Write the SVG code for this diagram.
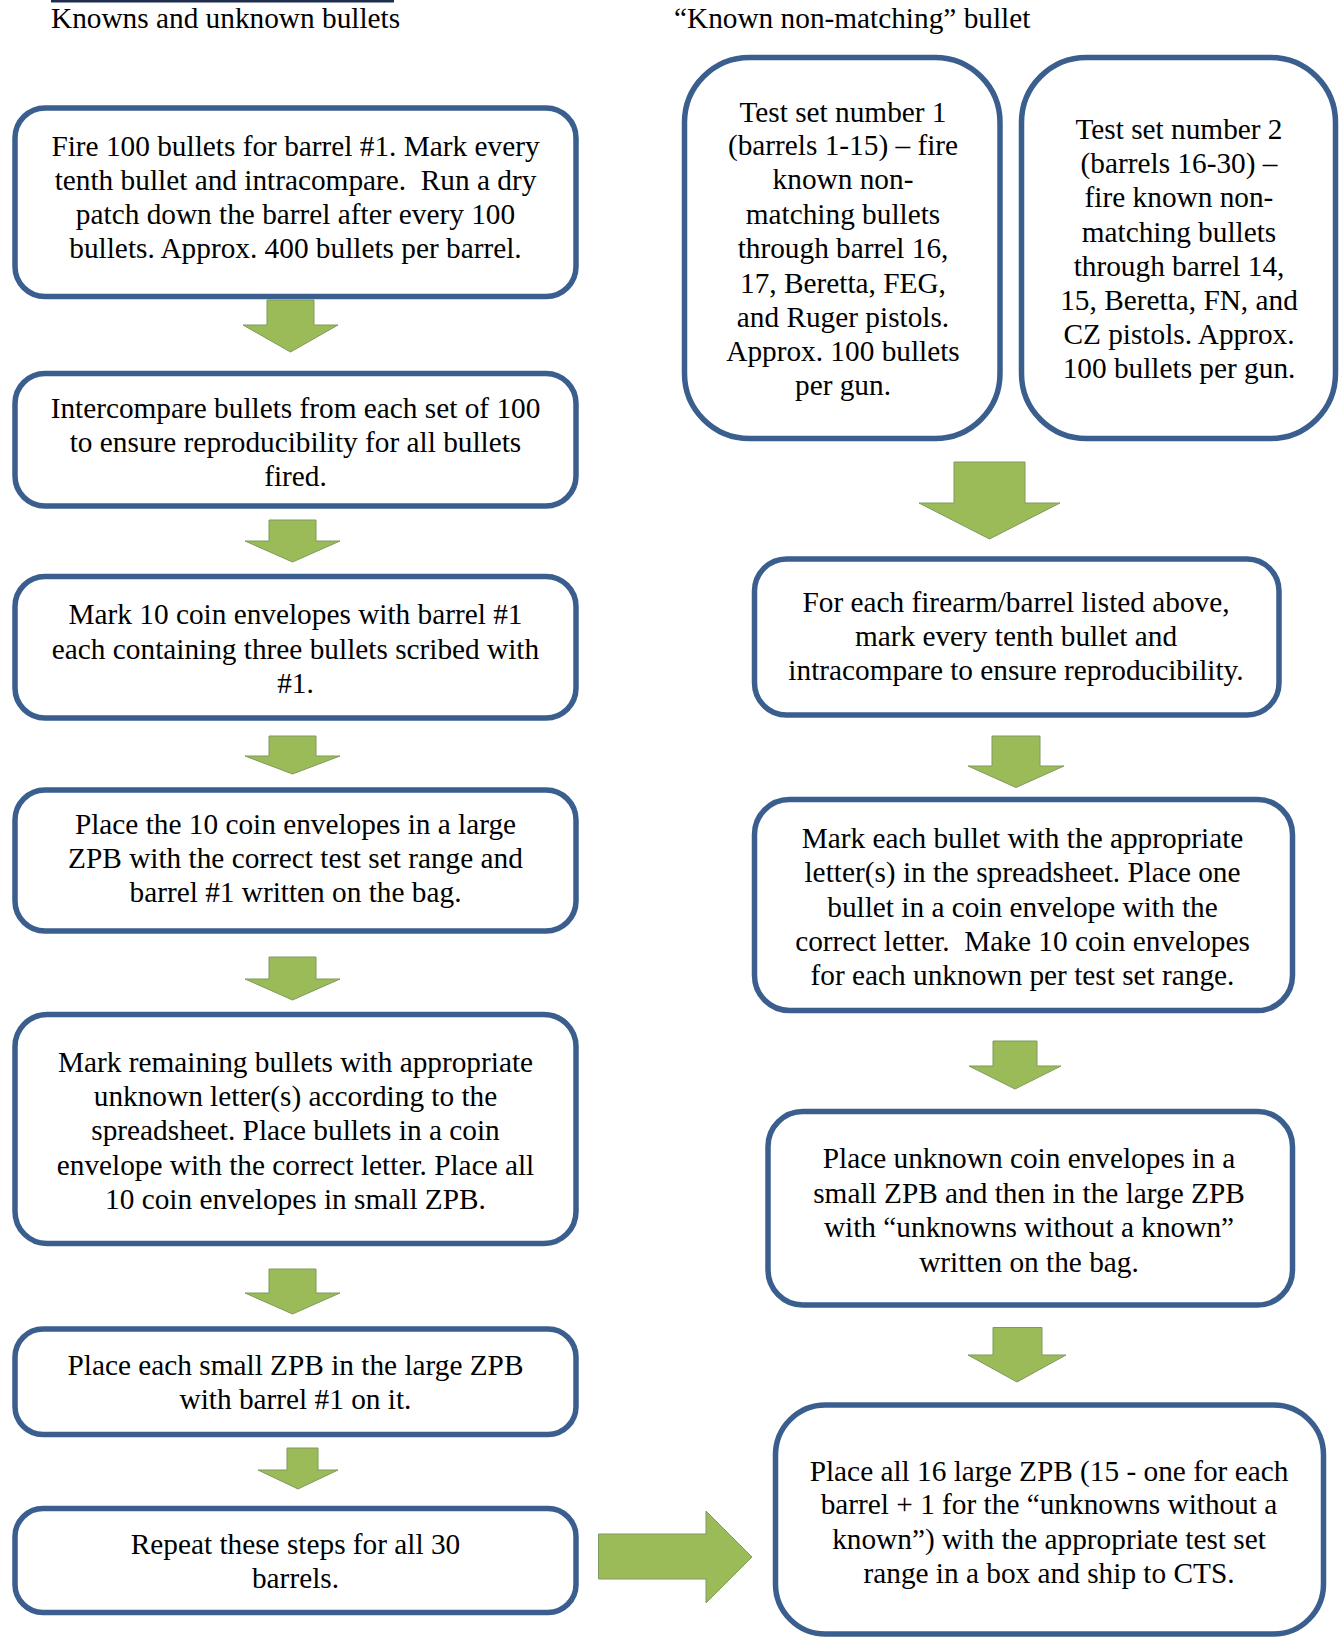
<svg xmlns="http://www.w3.org/2000/svg" width="1341" height="1637" viewBox="0 0 1341 1637">
<style>
.box{fill:#fff;stroke:#3A5F8E;stroke-width:5.5}
.arr{fill:#9BBB59;stroke:#7E9A5E;stroke-width:1}
text{font-family:"Liberation Serif","Times New Roman",serif;font-size:29.3px;fill:#000;white-space:pre}
.c{text-anchor:middle}
</style>
<rect width="1341" height="1637" fill="#fff"/>
<rect x="51" y="0" width="343" height="2.5" fill="#1F2D4F"/>
<text x="51" y="28">Knowns and unknown bullets</text>
<text x="674" y="28">“Known non-matching” bullet</text>

<g id="connectors">
<polygon class="arr" points="267,300 314,300 314,325 338,325 290.5,352 243,325 267,325"/>
<polygon class="arr" points="269,520 316,520 316,541 340,541 292.5,562 245,541 269,541"/>
<polygon class="arr" points="269,736 316,736 316,756 340,756 292.5,774 245,756 269,756"/>
<polygon class="arr" points="269,957 316,957 316,979 340,979 292.5,1000 245,979 269,979"/>
<polygon class="arr" points="269,1269 316,1269 316,1293 340,1293 292.5,1314 245,1293 269,1293"/>
<polygon class="arr" points="287,1448 318,1448 318,1470 338,1470 298,1489 258,1470 287,1470"/>
<polygon class="arr" points="954,462 1025,462 1025,503 1060,503 989.5,539 919,503 954,503"/>
<polygon class="arr" points="992,736 1040,736 1040,766 1064,766 1016,787.5 968,766 992,766"/>
<polygon class="arr" points="993,1041 1037,1041 1037,1066 1061,1066 1015,1089 969,1066 993,1066"/>
<polygon class="arr" points="993,1327.5 1042,1327.5 1042,1355 1066,1355 1017,1382 968,1355 993,1355"/>
<polygon class="arr" points="598.5,1534 706,1534 706,1511 752,1557 706,1603 706,1579 598.5,1579"/>
</g>

<g id="b1">
<rect class="box" x="15" y="108" width="561" height="188.5" rx="30"/>
<text class="c" x="295.5" y="156">Fire 100 bullets for barrel #1. Mark every</text>
<text class="c" x="295.5" y="190">tenth bullet and intracompare.  Run a dry</text>
<text class="c" x="295.5" y="224">patch down the barrel after every 100</text>
<text class="c" x="295.5" y="258">bullets. Approx. 400 bullets per barrel.</text>
</g>
<g id="b2">
<rect class="box" x="15" y="373.5" width="561" height="132.5" rx="30"/>
<text class="c" x="295.5" y="418">Intercompare bullets from each set of 100</text>
<text class="c" x="295.5" y="452">to ensure reproducibility for all bullets</text>
<text class="c" x="295.5" y="486">fired.</text>
</g>
<g id="b3">
<rect class="box" x="15" y="576.5" width="561" height="141.5" rx="30"/>
<text class="c" x="295.5" y="624">Mark 10 coin envelopes with barrel #1</text>
<text class="c" x="295.5" y="659">each containing three bullets scribed with</text>
<text class="c" x="295.5" y="693">#1.</text>
</g>
<g id="b4">
<rect class="box" x="15" y="790" width="561" height="141" rx="30"/>
<text class="c" x="295.5" y="834">Place the 10 coin envelopes in a large</text>
<text class="c" x="295.5" y="868">ZPB with the correct test set range and</text>
<text class="c" x="295.5" y="902">barrel #1 written on the bag.</text>
</g>
<g id="b5">
<rect class="box" x="15" y="1014.5" width="561" height="229" rx="32"/>
<text class="c" x="295.5" y="1072">Mark remaining bullets with appropriate</text>
<text class="c" x="295.5" y="1106">unknown letter(s) according to the</text>
<text class="c" x="295.5" y="1140">spreadsheet. Place bullets in a coin</text>
<text class="c" x="295.5" y="1175">envelope with the correct letter. Place all</text>
<text class="c" x="295.5" y="1209">10 coin envelopes in small ZPB.</text>
</g>
<g id="b6">
<rect class="box" x="15" y="1329" width="561" height="105.5" rx="28"/>
<text class="c" x="295.5" y="1375">Place each small ZPB in the large ZPB</text>
<text class="c" x="295.5" y="1409">with barrel #1 on it.</text>
</g>
<g id="b7">
<rect class="box" x="15" y="1508.5" width="561" height="104" rx="28"/>
<text class="c" x="295.5" y="1554">Repeat these steps for all 30</text>
<text class="c" x="295.5" y="1588">barrels.</text>
</g>

<g id="t1">
<rect class="box" x="684.5" y="57.5" width="315.5" height="381" rx="65"/>
<text class="c" x="843" y="122">Test set number 1</text>
<text class="c" x="843" y="155">(barrels 1-15) – fire</text>
<text class="c" x="843" y="189">known non-</text>
<text class="c" x="843" y="224">matching bullets</text>
<text class="c" x="843" y="258">through barrel 16,</text>
<text class="c" x="843" y="293">17, Beretta, FEG,</text>
<text class="c" x="843" y="327">and Ruger pistols.</text>
<text class="c" x="843" y="361">Approx. 100 bullets</text>
<text class="c" x="843" y="395">per gun.</text>
</g>
<g id="t2">
<rect class="box" x="1021.5" y="57.5" width="314" height="381" rx="65"/>
<text class="c" x="1179" y="139">Test set number 2</text>
<text class="c" x="1179" y="173">(barrels 16-30) –</text>
<text class="c" x="1179" y="207">fire known non-</text>
<text class="c" x="1179" y="242">matching bullets</text>
<text class="c" x="1179" y="276">through barrel 14,</text>
<text class="c" x="1179" y="310">15, Beretta, FN, and</text>
<text class="c" x="1179" y="344">CZ pistols. Approx.</text>
<text class="c" x="1179" y="378">100 bullets per gun.</text>
</g>
<g id="r1">
<rect class="box" x="754.5" y="559" width="524.5" height="156" rx="32"/>
<text class="c" x="1016" y="612">For each firearm/barrel listed above,</text>
<text class="c" x="1016" y="646">mark every tenth bullet and</text>
<text class="c" x="1016" y="680">intracompare to ensure reproducibility.</text>
</g>
<g id="r2">
<rect class="box" x="754.5" y="799.5" width="538" height="211" rx="35"/>
<text class="c" x="1022.5" y="848">Mark each bullet with the appropriate</text>
<text class="c" x="1022.5" y="882">letter(s) in the spreadsheet. Place one</text>
<text class="c" x="1022.5" y="917">bullet in a coin envelope with the</text>
<text class="c" x="1022.5" y="951">correct letter.  Make 10 coin envelopes</text>
<text class="c" x="1022.5" y="985">for each unknown per test set range.</text>
</g>
<g id="r3">
<rect class="box" x="768" y="1111.5" width="524.5" height="193.5" rx="35"/>
<text class="c" x="1029" y="1168">Place unknown coin envelopes in a</text>
<text class="c" x="1029" y="1203">small ZPB and then in the large ZPB</text>
<text class="c" x="1029" y="1237">with “unknowns without a known”</text>
<text class="c" x="1029" y="1272">written on the bag.</text>
</g>
<g id="r4">
<rect class="box" x="775.5" y="1405" width="548" height="229" rx="50"/>
<text class="c" x="1049" y="1481">Place all 16 large ZPB (15 - one for each</text>
<text class="c" x="1049" y="1514">barrel + 1 for the “unknowns without a</text>
<text class="c" x="1049" y="1549">known”) with the appropriate test set</text>
<text class="c" x="1049" y="1583">range in a box and ship to CTS.</text>
</g>
</svg>
